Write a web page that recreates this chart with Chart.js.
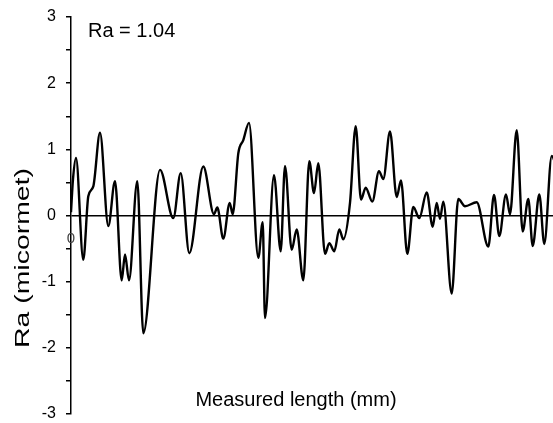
<!DOCTYPE html>
<html>
<head>
<meta charset="utf-8">
<script src="https://cdn.jsdelivr.net/npm/chart.js@4.4.1/dist/chart.umd.min.js"></script>
<style>
  html, body { margin: 0; padding: 0; background: #fff; overflow: hidden; }
  canvas { display: block; }
</style>
</head>
<body>
<canvas id="profile" width="553" height="423"></canvas>
<script>
// positions along the measured length (plot units, axis has no ticks)
const lengthPos = [0, 2, 5, 12.3, 17.3, 22.3, 29, 37.3, 44, 50.7, 54, 58, 66.3, 72.3, 89, 102.3, 109.7, 118.3, 132.3, 143,
    146.3, 152.3, 158.7, 161.7, 167.3, 172.3, 178, 187.3, 191.7, 194, 203, 209.7, 214, 220.7, 225.7, 232.3, 238.3, 243, 247.3, 254,
    258.3, 263.3, 268.3, 272.3, 279, 284.7, 290, 294.7, 301.3, 308, 312.3, 319, 325.7, 330, 336.3, 342.3, 348.3, 355.7, 361.7, 365.7,
    369, 372.3, 380.7, 387.3, 394, 405.7, 417.3, 423, 428.3, 435, 439, 445.7, 451.7, 457.3, 461.7, 468.3, 473.3, 480.7, 486];
// roughness profile (micrometre)
const raValues = [0.05, 0.55, 0.87, -0.67, 0.29, 0.44, 1.25, -0.16, 0.52, -0.98, -0.59, -0.98, 0.52, -1.78, 0.69, -0.04, 0.64, -0.57, 0.74, 0.02,
    0.12, -0.35, 0.19, 0.02, 0.94, 1.14, 1.40, -0.64, -0.1, -1.55, 0.61, -0.54, 0.75, -0.52, -0.21, -0.98, 0.82, 0.34, 0.79, -0.58,
    -0.42, -0.54, -0.21, -0.36, 0.19, 1.35, 0.24, 0.42, 0.21, 0.67, 0.55, 1.27, 0.28, 0.53, -0.58, 0.13, -0.04, 0.35, -0.17, 0.19,
    -0.05, 0.21, -1.18, 0.25, 0.14, 0.2, -0.47, 0.31, -0.31, 0.32, 0.02, 1.29, -0.24, 0.25, -0.46, 0.32, -0.43, 0.9, 0.7];
const yTicks = [-3, -2, -1, 0, 1, 2, 3];

const FONT = "'Liberation Sans', Arial, sans-serif";

const labels = {
    id: 'labels',
    afterDraw(chart) {
        const ctx = chart.ctx;
        ctx.save();
        ctx.fillStyle = '#000';
        ctx.font = '20px ' + FONT;
        ctx.textAlign = 'left';
        ctx.textBaseline = 'alphabetic';
        ctx.fillText('Ra = 1.04', 88, 37);

        ctx.textAlign = 'center';
        ctx.fillText('Measured length (mm)', 296, 406);

        // y title, stretched like the source
        ctx.translate(29, 258);
        ctx.rotate(-Math.PI / 2);
        ctx.scale(1.42, 1);
        ctx.fillText('Ra (micormet)', 0, 0);
        ctx.restore();

        ctx.save();
        ctx.fillStyle = '#444';
        ctx.font = '15px ' + FONT;
        ctx.textAlign = 'center';
        ctx.fillText('0', 71, 243);
        ctx.restore();
    }
};

new Chart(document.getElementById('profile'), {
    type: 'line',
    data: {
        datasets: [{
            data: lengthPos.map((x, i) => ({ x: x, y: raValues[i] })),
            borderColor: '#000',
            borderWidth: 2.4,
            pointRadius: 0,
            cubicInterpolationMode: 'monotone',
            fill: false
        }]
    },
    options: {
        responsive: false,
        animation: false,
        layout: { padding: { left: 0, right: 0, top: 17, bottom: 9 } },
        plugins: { legend: { display: false }, tooltip: { enabled: false } },
        scales: {
            x: { type: 'linear', min: 0, max: 482, display: false },
            y: {
                min: -3, max: 3,
                afterFit: s => { s.width = 71; s.paddingTop = 0; s.paddingBottom = 0; },
                afterBuildTicks: s => {
                    const t = [];
                    yTicks.forEach((v, i) => {
                        t.push({ value: v });
                        if (i < yTicks.length - 1) t.push({ value: v + 0.5 });
                    });
                    s.ticks = t;
                },
                ticks: {
                    color: '#000',
                    font: { family: FONT, size: 16 },
                    padding: 10,
                    callback: v => Number.isInteger(v) ? v : ''
                },
                grid: {
                    drawOnChartArea: true,
                    tickLength: 5,
                    lineWidth: 1.5,
                    color: c => c.tick && c.tick.value === 0 ? '#000' : 'rgba(0,0,0,0)',
                    tickColor: '#000',
                    tickWidth: 1.5
                },
                border: { display: true, color: '#000', width: 1.5 }
            }
        }
    },
    plugins: [labels]
});
</script>
</body>
</html>
